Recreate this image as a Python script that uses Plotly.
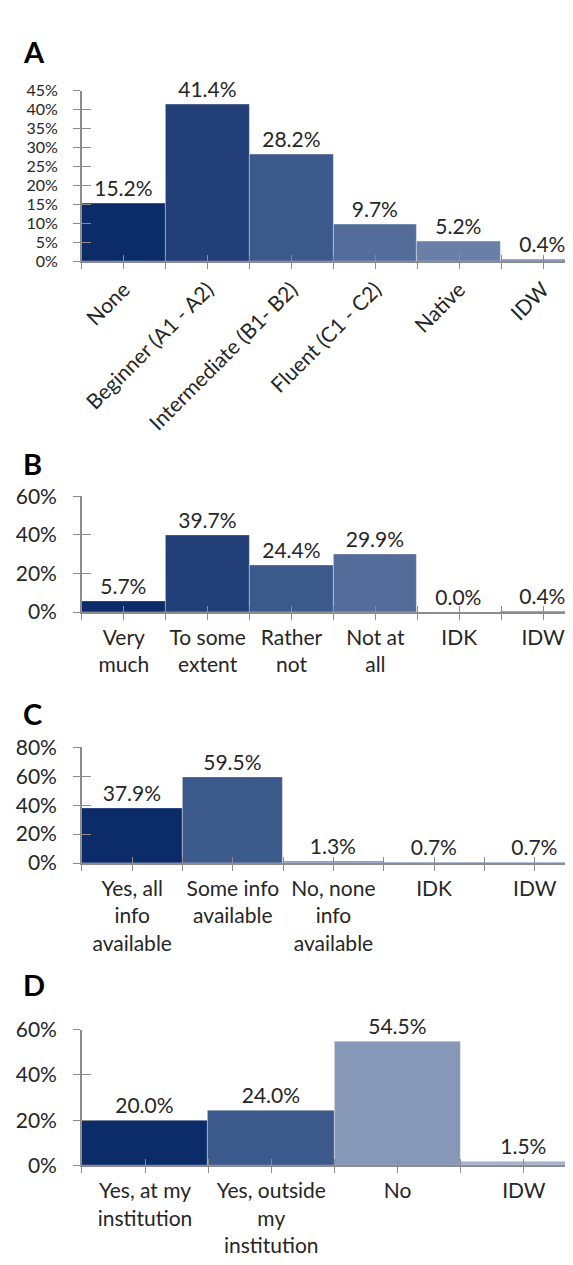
import plotly.graph_objects as go

W, H = 573, 1265
FONT = "Lato"
TXT = "#262626"
AX = "#8c8c8c"

# ---------------- data ----------------
a_categories = ["None", "Beginner (A1 - A2)", "Intermediate (B1- B2)", "Fluent (C1 - C2)", "Native", "IDW"]
a_values = [15.2, 41.4, 28.2, 9.7, 5.2, 0.4]
a_colors = ["#0c2c69", "#223f78", "#3c598b", "#536c99", "#6a7fa7", "#7f90b4"]

b_categories = ["Very<br>much", "To some<br>extent", "Rather<br>not", "Not at<br>all", "IDK", "IDW"]
b_values = [5.7, 39.7, 24.4, 29.9, 0.0, 0.4]
b_colors = ["#0c2c69", "#223f78", "#3c598b", "#536c99", "#6a7fa7", "#6b80a8"]

c_categories = ["Yes, all<br>info<br>available", "Some info<br>available", "No, none<br>info<br>available", "IDK", "IDW"]
c_values = [37.9, 59.5, 1.3, 0.7, 0.7]
c_colors = ["#0c2c69", "#3c598b", "#8494b8", "#8a9abd", "#96a4c4"]

d_categories = ["Yes, at my<br>institution", "Yes, outside<br>my<br>institution", "No", "IDW"]
d_values = [20.0, 24.0, 54.5, 1.5]
d_colors = ["#0c2c69", "#3c598b", "#8797b8", "#a7b3cd"]

panel_letters = ["A", "B", "C", "D"]

# ---------------- layout (pixel geometry) ----------------
panels = [
    dict(cats=a_categories, vals=a_values, cols=a_colors, top=70, bottom=244, ymax=45, dtick=5, catw=84.0, angle=-45, yfs=16),
    dict(cats=b_categories, vals=b_values, cols=b_colors, top=484, bottom=602, ymax=60, dtick=20, catw=84.0, angle=0, yfs=21),
    dict(cats=c_categories, vals=c_values, cols=c_colors, top=740, bottom=858, ymax=80, dtick=20, catw=100.8, angle=0, yfs=21),
    dict(cats=d_categories, vals=d_values, cols=d_colors, top=1028, bottom=1166.5, ymax=60, dtick=20, catw=126.5, angle=0, yfs=21),
]
letter_y = [30, 450, 705, 982]

X0 = 73
xdom = [X0 / W, 1.0]

fig = go.Figure()
layout = {}
tickfont = dict(family=FONT, size=21, color=TXT)

for i, p in enumerate(panels):
    k = i + 1
    ko = i + 5
    n = len(p["cats"])
    xs = list(range(n))
    xr = [-0.5, -0.5 + (W - X0) / p["catw"]]
    ydom = [1 - p["bottom"] / H, 1 - p["top"] / H]
    centers = xs
    bounds = [j - 0.5 for j in range(n + 1)]

    fig.add_trace(go.Bar(
        x=xs, y=p["vals"], width=1.0,
        marker=dict(color=p["cols"], line=dict(color="rgba(255,255,255,0.35)", width=1)),
        text=[f"{v:.1f}%" for v in p["vals"]], textposition="outside",
        textfont=dict(family=FONT, size=21, color=TXT),
        constraintext="none", cliponaxis=False, showlegend=False,
        hoverinfo="skip",
        xaxis=f"x{k}", yaxis=f"y{k}",
    ))
    # empty trace to create the overlay subplot that carries the inner half of the ticks
    fig.add_trace(go.Scatter(x=[], y=[], xaxis=f"x{ko}", yaxis=f"y{ko}", showlegend=False))

    layout[f"xaxis{k}"] = dict(
        domain=xdom, anchor=f"y{k}", range=xr,
        tickmode="array", tickvals=centers, ticktext=p["cats"], tickangle=p["angle"],
        ticks="outside", ticklen=6, tickwidth=1.3, tickcolor=AX,
        minor=dict(tickmode="array", tickvals=bounds, ticks="outside", ticklen=6, tickwidth=1.3, tickcolor=AX),
        showline=True, linecolor=AX, linewidth=1.5,
        showgrid=False, zeroline=False, tickfont=tickfont, fixedrange=True,
    )
    layout[f"yaxis{k}"] = dict(
        domain=ydom, anchor=f"x{k}", range=[0, p["ymax"]],
        tickmode="linear", tick0=0, dtick=p["dtick"], ticksuffix="%",
        ticks="outside", ticklen=7, tickwidth=1.3, tickcolor=AX, ticklabelstandoff=12,
        showline=True, linecolor=AX, linewidth=1.5,
        showgrid=False, zeroline=False, fixedrange=True,
        tickfont=dict(family=FONT, size=p["yfs"], color=TXT),
    )
    layout[f"xaxis{ko}"] = dict(
        domain=xdom, anchor=f"y{ko}", overlaying=f"x{k}", range=xr,
        tickmode="array", tickvals=centers + bounds, ticks="inside", ticklen=6,
        tickwidth=1.3, tickcolor=AX, showticklabels=False, showline=False,
        showgrid=False, zeroline=False, fixedrange=True,
    )
    layout[f"yaxis{ko}"] = dict(
        domain=ydom, anchor=f"x{ko}", overlaying=f"y{k}", range=[0, p["ymax"]], side="left",
        tickmode="linear", tick0=0, dtick=p["dtick"], ticks="inside", ticklen=9,
        tickwidth=1.3, tickcolor=AX, showticklabels=False, showline=False,
        showgrid=False, zeroline=False, fixedrange=True,
    )

annotations = []
for letter, ly in zip(panel_letters, letter_y):
    annotations.append(dict(
        text=f"<b>{letter}</b>", x=12 / W, y=1 - ly / H, xref="paper", yref="paper",
        xanchor="left", yanchor="middle", showarrow=False,
        font=dict(family=FONT, size=29, color="#000000"),
    ))

fig.update_layout(
    width=W, height=H, autosize=False,
    margin=dict(l=0, r=0, t=0, b=0),
    paper_bgcolor="white", plot_bgcolor="white",
    bargap=0, showlegend=False,
    annotations=annotations,
    font=dict(family=FONT, color=TXT),
    **layout,
)

fig.write_html("out.html", config={"displayModeBar": False})
